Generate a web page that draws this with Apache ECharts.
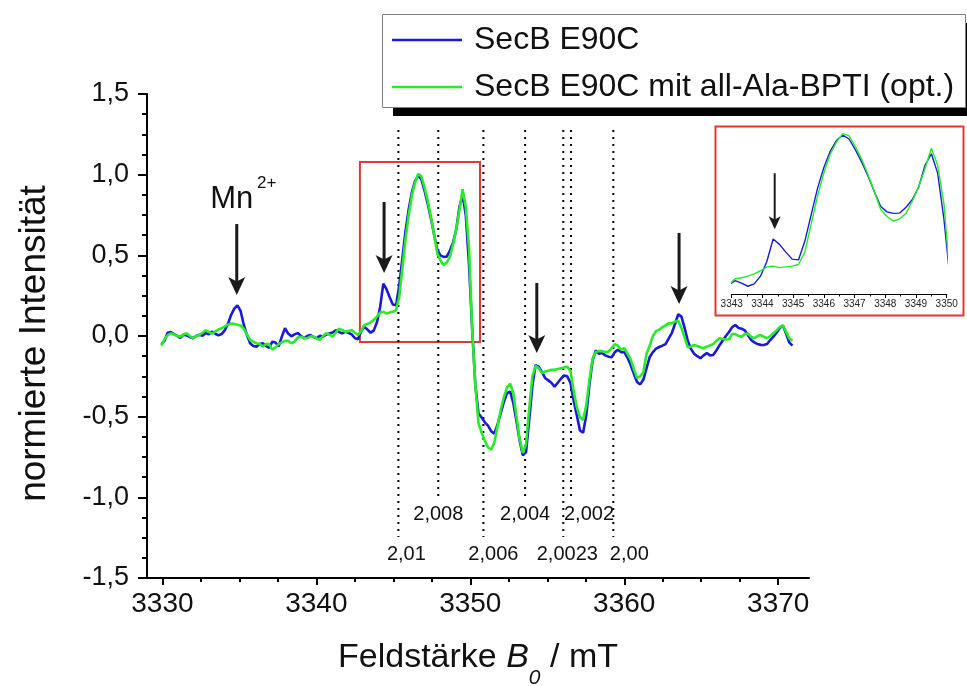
<!DOCTYPE html>
<html>
<head>
<meta charset="utf-8">
<script src="https://cdn.jsdelivr.net/npm/echarts@6/dist/echarts.min.js"></script>
<style>
  html, body { margin: 0; padding: 0; background: #fff; }
  #chart { width: 967px; height: 686px; }
</style>
</head>
<body>
<div id="chart"></div>
<script>
const FONT = "'Liberation Sans', Arial, sans-serif";
const BLUE = '#1a1ad6';
const GREEN = '#27ec27';
const RED = '#dc3a36';
const INK = '#111';

// Field sweep: first point and spacing (mT)
const fieldStart = 3329.93;
const fieldStep = 0.206;

// Normalised EPR derivative spectra
const secB = [
  -0.05, -0.03, 0.02, 0.025, 0.012, 0.0, -0.012, 0.008, 0.004, -0.006,
  -0.014, 0.0, 0.008, 0.002, 0.018, 0.01, 0.028, 0.014, 0.004, 0.012,
  0.035, 0.075, 0.13, 0.17, 0.19, 0.155, 0.07, 0.006, -0.045, -0.062,
  -0.066, -0.05, -0.045, -0.062, -0.074, -0.035, -0.04, -0.064, -0.004, 0.048,
  0.015, -0.002, 0.01, 0.018, 0.002, -0.014, 0.0, 0.006, -0.006, -0.014,
  0.002, -0.004, 0.008, 0.016, 0.022, 0.036, 0.026, 0.016, 0.026, 0.02,
  0.01, -0.012, -0.02, 0.03, 0.056, 0.04, 0.02, 0.035, 0.085, 0.18,
  0.325, 0.29, 0.24, 0.195, 0.19, 0.31, 0.48, 0.65, 0.785, 0.89,
  0.96, 0.995, 0.97, 0.9, 0.82, 0.73, 0.63, 0.535, 0.5, 0.49,
  0.492, 0.53, 0.58, 0.66, 0.8, 0.875, 0.75, 0.45, 0.05, -0.3,
  -0.48, -0.505, -0.535, -0.555, -0.59, -0.605, -0.55, -0.48, -0.41, -0.355,
  -0.345, -0.417, -0.53, -0.65, -0.74, -0.72, -0.52, -0.31, -0.18, -0.19,
  -0.222, -0.26, -0.275, -0.29, -0.315, -0.29, -0.265, -0.245, -0.25, -0.29,
  -0.4, -0.49, -0.585, -0.6, -0.49, -0.3, -0.15, -0.09, -0.11, -0.105,
  -0.12, -0.128, -0.132, -0.1, -0.085, -0.1, -0.1, -0.135, -0.18, -0.235,
  -0.285, -0.3, -0.27, -0.2, -0.13, -0.1, -0.078, -0.068, -0.06, -0.05,
  -0.015, 0.02, 0.075, 0.135, 0.12, 0.05, -0.03, -0.08, -0.11, -0.125,
  -0.138, -0.12, -0.105, -0.12, -0.118, -0.09, -0.058, -0.03, 0.0, 0.025,
  0.055, 0.068, 0.05, 0.045, 0.035, 0.005, -0.025, -0.04, -0.05, -0.055,
  -0.056, -0.05, -0.025, -0.004, 0.02, 0.05, 0.065, 0.015, -0.04, -0.06
];
const secBBpti = [
  -0.06, -0.02, 0.005, 0.017, 0.01, 0.002, -0.004, 0.01, 0.017, 0.0,
  -0.014, -0.002, 0.006, 0.02, 0.035, 0.025, 0.015, 0.028, 0.04, 0.048,
  0.06, 0.07, 0.078, 0.075, 0.07, 0.065, 0.045, 0.01, -0.025, -0.035,
  -0.045, -0.05, -0.066, -0.05, -0.05, -0.085, -0.07, -0.05, -0.04, -0.03,
  -0.03, -0.045, -0.035, -0.01, -0.004, -0.012, -0.014, -0.002, -0.004, -0.015,
  -0.025, 0.0, 0.017, 0.008, -0.004, 0.02, 0.045, 0.038, 0.027, 0.03,
  0.037, 0.02, 0.006, 0.03, 0.068, 0.075, 0.085, 0.1, 0.12, 0.145,
  0.15, 0.14, 0.145, 0.15, 0.16, 0.24, 0.42, 0.6, 0.75, 0.87,
  0.95, 1.005, 0.99, 0.92, 0.84, 0.74, 0.63, 0.515, 0.47, 0.44,
  0.455, 0.49, 0.57, 0.66, 0.78, 0.91, 0.8, 0.55, 0.05, -0.3,
  -0.54, -0.6, -0.65, -0.69, -0.705, -0.66, -0.56, -0.46, -0.38, -0.32,
  -0.295, -0.355, -0.5, -0.64, -0.725, -0.67, -0.45, -0.25, -0.185, -0.2,
  -0.23, -0.22, -0.215, -0.21, -0.21, -0.205, -0.2, -0.195, -0.19, -0.215,
  -0.34, -0.44, -0.505, -0.52, -0.43, -0.27, -0.14, -0.1, -0.092, -0.095,
  -0.1, -0.097, -0.075, -0.05, -0.06, -0.085, -0.076, -0.11, -0.145, -0.205,
  -0.26, -0.25, -0.225, -0.11, -0.06, 0.0, 0.03, 0.04, 0.055, 0.065,
  0.08, 0.078, 0.09, 0.095, 0.05, -0.01, -0.07, -0.065, -0.056, -0.062,
  -0.07, -0.076, -0.066, -0.058, -0.05, -0.03, -0.014, -0.018, -0.022, -0.02,
  0.012, 0.012, 0.0, -0.004, 0.012, 0.015, -0.005, -0.014, 0.0, 0.006,
  -0.005, -0.014, 0.0, 0.017, 0.035, 0.055, 0.065, 0.027, -0.015, -0.03
];

const seriesNames = ['SecB E90C', 'SecB E90C mit all-Ala-BPTI (opt.)'];

// Axis ticks (mT)
const majorFieldTicks = [3330, 3340, 3350, 3360, 3370];
const minorFieldTicks = [3332.5, 3335, 3337.5, 3342.5, 3345, 3347.5,
                         3352.5, 3355, 3357.5, 3362.5, 3365, 3367.5];

// g-value markers: label and field position (mT)
const gLabels = ['2,01', '2,008', '2,006', '2,004', '2,0023', '2,002', '2,00'];
const gFields = [3345.33, 3347.92, 3350.85, 3353.56, 3356.04, 3356.54, 3359.29];

// Arrows pointing at signals: field, tail value, tip value
const arrowFields = [3334.83, 3344.40, 3354.32, 3363.56];
const arrowTails = [0.694, 0.831, 0.329, 0.639];
const arrowTips = [0.254, 0.391, -0.105, 0.198];
const insetArrowField = [3344.4];
const insetArrowTail = [0.749];
const insetArrowTip = [0.387];

// Region shown enlarged in the inset
const zoomFieldRange = [3342.83, 3350.63];
const zoomValueRange = [-0.037, 1.079];
const insetFieldRange = [3343, 3350];
const insetValueRange = [-0.03, 1.05];

// ---- layout ----
const gLineTop = 1.277;               // top of the dotted markers (intensity units)
const gLineBottom = [-1.246, -1.004]; // long / short marker
const gRow = [0, 1, 0, 1, 0, 1, 0];
const gLabelShift = [8, 0, 10, 0, 4, 18, 16];

const toPairs = vals => vals.map((v, i) => [+(fieldStart + i * fieldStep).toFixed(3), v]);
const fmtComma = v => v.toFixed(1).replace('.', ',');
const fmtPlain = v => String(v);

function arrowRenderer(headLen, headHalf, shaftW, labelled) {
  return function (params, api) {
    const f = api.value(0);
    const p0 = api.coord([f, api.value(1)]);
    const p1 = api.coord([f, api.value(2)]);
    const x = p1[0], yTip = p1[1];
    const children = [
      { type: 'line', shape: { x1: p0[0], y1: p0[1], x2: x, y2: yTip - headLen * 0.7 },
        style: { stroke: '#1a1a1a', lineWidth: shaftW } },
      { type: 'polygon', shape: { points: [
          [x - headHalf, yTip - headLen], [x, yTip], [x + headHalf, yTip - headLen],
          [x, yTip - headLen * 0.75]] },
        style: { fill: '#1a1a1a' } }
    ];
    if (labelled && params.dataIndex === 0) {
      children.push(
        { type: 'text', style: { text: 'Mn', x: p0[0] - 5, y: p0[1] - 25, align: 'center',
            verticalAlign: 'middle', font: `31px ${FONT}`, fill: INK } },
        { type: 'text', style: { text: '2+', x: p0[0] + 30, y: p0[1] - 41, align: 'center',
            verticalAlign: 'middle', font: `17px ${FONT}`, fill: INK } }
      );
    }
    return { type: 'group', children };
  };
}

const chart = echarts.init(document.getElementById('chart'), null, { renderer: 'canvas' });

const option = {
  animation: false,
  backgroundColor: '#fff',
  textStyle: { fontFamily: FONT },
  legend: {
    orient: 'vertical',
    left: 382, top: 14,
    icon: 'rect',
    itemWidth: 70, itemHeight: 2.5, itemGap: 11,
    padding: [8, 10, 2, 10],
    data: seriesNames,
    selectedMode: false,
    textStyle: { fontSize: 32, color: INK, lineHeight: 36, padding: [0, 0, 0, 7] }
  },
  grid: [
    { left: 147, right: 158, top: 94, bottom: 108, outerBoundsMode: 'none', containLabel: false },
    { left: 731.7, right: 20.3, top: 126.6, bottom: 392, outerBoundsMode: 'none', containLabel: false }
  ],
  xAxis: [
    {
      type: 'value', gridIndex: 0, min: 3329, max: 3372, position: 'bottom',
      axisLine: { show: true, onZero: false, lineStyle: { color: '#000', width: 2 } },
      axisTick: { show: true, customValues: majorFieldTicks, length: 7, lineStyle: { color: '#000', width: 2 } },
      axisLabel: { customValues: majorFieldTicks, fontSize: 28, color: INK, margin: 12, formatter: fmtPlain },
      splitLine: { show: false },
      name: 'Feldstärke {b|B}{s|0} / mT',
      nameLocation: 'middle', nameGap: 58,
      nameTextStyle: {
        fontSize: 34, color: INK, lineHeight: 44,
        rich: {
          b: { fontSize: 34, fontStyle: 'italic', color: INK, lineHeight: 44 },
          s: { fontSize: 21, fontStyle: 'italic', color: INK, lineHeight: 44, padding: [40, 0, 0, 0] }
        }
      }
    },
    {
      type: 'value', gridIndex: 0, min: 3329, max: 3372, position: 'bottom',
      axisLine: { show: false, onZero: false },
      axisTick: { show: true, customValues: minorFieldTicks, length: 4, lineStyle: { color: '#000', width: 2 } },
      axisLabel: { show: false },
      splitLine: { show: false }
    },
    {
      type: 'value', gridIndex: 1, min: insetFieldRange[0], max: insetFieldRange[1], interval: 1,
      axisLine: { show: true, onZero: false, lineStyle: { color: '#000', width: 1 } },
      axisTick: { show: true, length: 4, lineStyle: { color: '#000', width: 1 } },
      minorTick: { show: true, splitNumber: 2, length: 2.5, lineStyle: { color: '#000', width: 1 } },
      axisLabel: { fontSize: 10, color: '#222', margin: 5, formatter: fmtPlain },
      splitLine: { show: false }
    }
  ],
  yAxis: [
    {
      type: 'value', gridIndex: 0, min: -1.5, max: 1.5, interval: 0.5,
      axisLine: { show: true, onZero: false, lineStyle: { color: '#000', width: 2 } },
      axisTick: { show: true, length: 9, lineStyle: { color: '#000', width: 2 } },
      minorTick: { show: true, splitNumber: 4, length: 5, lineStyle: { color: '#000', width: 2 } },
      axisLabel: { fontSize: 27, color: INK, margin: 18, formatter: fmtComma },
      splitLine: { show: false },
      minorSplitLine: { show: false },
      name: 'normierte Intensität',
      nameLocation: 'middle', nameGap: 94,
      nameTextStyle: { fontSize: 37, color: INK, padding: [0, 15, 0, 0] }
    },
    {
      type: 'value', gridIndex: 1, min: insetValueRange[0], max: insetValueRange[1], show: false
    }
  ],
  series: [
    {
      type: 'custom', name: 'g-Werte', xAxisIndex: 0, yAxisIndex: 0, z: 1, silent: true,
      data: gFields.map((f, i) => [f, i]),
      renderItem(params, api) {
        const i = api.value(1);
        const f = api.value(0);
        const top = api.coord([f, gLineTop]);
        const bot = api.coord([f, gLineBottom[gRow[i]]]);
        return { type: 'group', children: [
          { type: 'line', shape: { x1: top[0], y1: top[1], x2: bot[0], y2: bot[1] },
            style: { stroke: '#000', lineWidth: 2, lineDash: [2, 5] } },
          { type: 'text', style: { text: gLabels[i], x: bot[0] + gLabelShift[i], y: bot[1] + 17,
              align: 'center', verticalAlign: 'middle', font: `20px ${FONT}`, fill: INK } }
        ] };
      }
    },
    {
      type: 'line', name: seriesNames[0], xAxisIndex: 0, yAxisIndex: 0, z: 2,
      data: toPairs(secB), showSymbol: false, symbol: 'none',
      color: BLUE, lineStyle: { color: BLUE, width: 2.6 },
      markArea: {
        silent: true,
        itemStyle: { color: 'rgba(0,0,0,0)', borderColor: RED, borderWidth: 2 },
        data: [[{ coord: [zoomFieldRange[0], zoomValueRange[0]] },
                { coord: [zoomFieldRange[1], zoomValueRange[1]] }]]
      }
    },
    {
      type: 'line', name: seriesNames[1], xAxisIndex: 0, yAxisIndex: 0, z: 3,
      data: toPairs(secBBpti), showSymbol: false, symbol: 'none',
      color: GREEN, lineStyle: { color: GREEN, width: 2.6 }
    },
    {
      type: 'custom', name: 'Pfeile', xAxisIndex: 0, yAxisIndex: 0, z: 4, silent: true,
      data: arrowFields.map((f, i) => [f, arrowTails[i], arrowTips[i]]),
      renderItem: arrowRenderer(18, 8.5, 3, true)
    },
    {
      type: 'line', name: seriesNames[0], xAxisIndex: 2, yAxisIndex: 1, z: 2, clip: true,
      data: toPairs(secB), showSymbol: false, symbol: 'none',
      color: BLUE, lineStyle: { color: BLUE, width: 1.4 }
    },
    {
      type: 'line', name: seriesNames[1], xAxisIndex: 2, yAxisIndex: 1, z: 3, clip: true,
      data: toPairs(secBBpti), showSymbol: false, symbol: 'none',
      color: GREEN, lineStyle: { color: GREEN, width: 1.4 }
    },
    {
      type: 'custom', name: 'Pfeil Inset', xAxisIndex: 2, yAxisIndex: 1, z: 4, silent: true,
      data: insetArrowField.map((f, i) => [f, insetArrowTail[i], insetArrowTip[i]]),
      renderItem: arrowRenderer(13, 6, 2, false)
    }
  ],
  graphic: [
    // legend frame with hard drop shadow
    { type: 'rect', left: 393, top: 23, z: 0, silent: true,
      shape: { width: 583, height: 93 }, style: { fill: '#000' } },
    { type: 'rect', left: 382, top: 14, z: 1, silent: true,
      shape: { width: 583, height: 93 }, style: { fill: '#fff', stroke: '#808080', lineWidth: 1 } },
    // inset frame
    { type: 'rect', left: 713, top: 124, z: 10, silent: true,
      shape: { width: 248, height: 189 },
      style: { fill: 'none', stroke: RED, lineWidth: 2 } }
  ]
};

chart.setOption(option);
</script>
</body>
</html>
